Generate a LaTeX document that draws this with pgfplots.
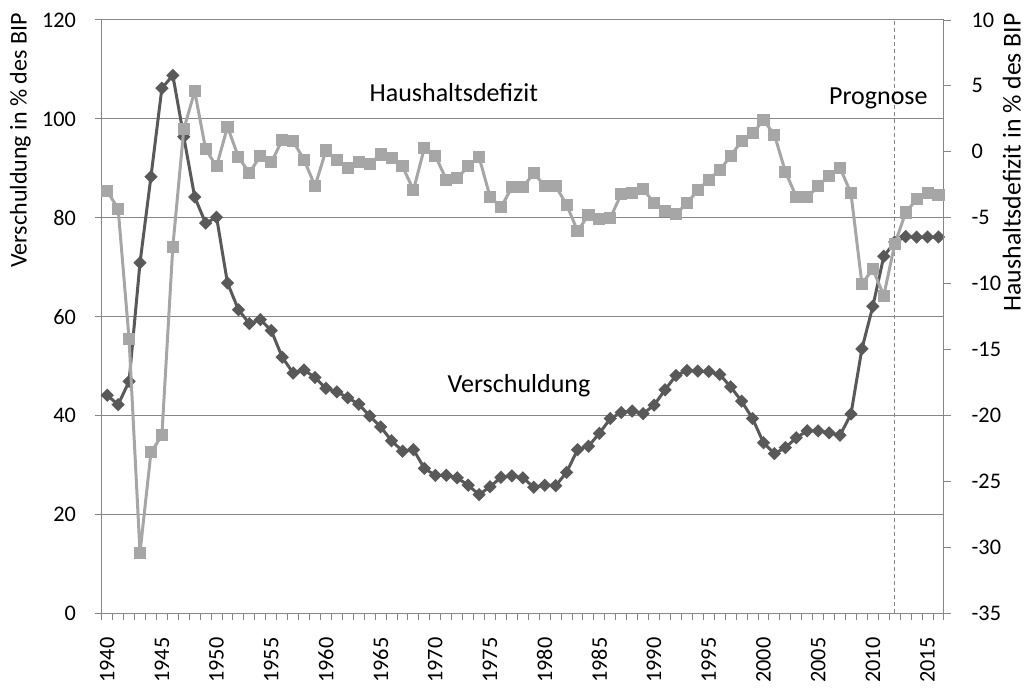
\documentclass[border=0pt]{standalone}
\usepackage{fontspec}
\setmainfont{Carlito}
\usepackage{pgfplots}
\pgfplotsset{compat=1.18}
\usepackage{pgfplotstable}
\definecolor{darkser}{HTML}{595959}
\definecolor{lightser}{HTML}{A6A6A6}
\definecolor{gridc}{HTML}{868686}

\pgfplotstableread{
year debt
1940 44.1
1941 42.2
1942 46.9
1943 70.9
1944 88.3
1945 106.2
1946 108.8
1947 96.4
1948 84.2
1949 78.9
1950 80.1
1951 66.8
1952 61.4
1953 58.6
1954 59.4
1955 57.2
1956 51.8
1957 48.6
1958 49.2
1959 47.7
1960 45.5
1961 44.8
1962 43.6
1963 42.3
1964 39.9
1965 37.7
1966 34.9
1967 32.8
1968 33.1
1969 29.3
1970 27.9
1971 27.9
1972 27.4
1973 25.9
1974 24.0
1975 25.6
1976 27.5
1977 27.8
1978 27.4
1979 25.5
1980 25.9
1981 25.8
1982 28.5
1983 33.1
1984 33.8
1985 36.4
1986 39.4
1987 40.6
1988 40.9
1989 40.4
1990 42.1
1991 45.2
1992 48.1
1993 49.1
1994 49.0
1995 48.9
1996 48.3
1997 45.8
1998 42.9
1999 39.4
2000 34.5
2001 32.3
2002 33.5
2003 35.5
2004 36.9
2005 36.9
2006 36.5
2007 36.0
2008 40.3
2009 53.5
2010 62.1
2011 72.2
2012 75.1
2013 76.2
2014 76.1
2015 76.1
2016 76.1
}\debttable

\pgfplotstableread{
year deficit
1940 -3.0
1941 -4.3
1942 -14.2
1943 -30.4
1944 -22.8
1945 -21.5
1946 -7.2
1947 1.7
1948 4.6
1949 0.2
1950 -1.1
1951 1.9
1952 -0.4
1953 -1.6
1954 -0.3
1955 -0.8
1956 0.9
1957 0.8
1958 -0.6
1959 -2.6
1960 0.1
1961 -0.6
1962 -1.25
1963 -0.75
1964 -0.9
1965 -0.2
1966 -0.5
1967 -1.1
1968 -2.9
1969 0.3
1970 -0.3
1971 -2.1
1972 -2.0
1973 -1.1
1974 -0.4
1975 -3.4
1976 -4.2
1977 -2.7
1978 -2.7
1979 -1.6
1980 -2.6
1981 -2.6
1982 -4.0
1983 -6.0
1984 -4.8
1985 -5.1
1986 -5.0
1987 -3.2
1988 -3.1
1989 -2.8
1990 -3.9
1991 -4.5
1992 -4.7
1993 -3.9
1994 -2.9
1995 -2.1
1996 -1.4
1997 -0.3
1998 0.8
1999 1.4
2000 2.4
2001 1.3
2002 -1.5
2003 -3.4
2004 -3.45
2005 -2.6
2006 -1.8
2007 -1.2
2008 -3.15
2009 -10.0
2010 -8.9
2011 -10.9
2012 -7.0
2013 -4.6
2014 -3.6
2015 -3.15
2016 -3.3
}\deficittable

\begin{document}
\begin{tikzpicture}
\pgfplotsset{
 common/.style={
  scale only axis, width=631.7pt, height=445pt,
  at={(0pt,0pt)}, anchor=south west,
  xmin=1939.5, xmax=2016.5,
  tick align=outside,
  /pgf/number format/assume math mode=true,
  /pgf/number format/1000 sep={},
  ticklabel style={font=\fontsize{16.7}{20}\selectfont},
  axis line style={gridc, line width=0.75pt},
  every tick/.style={gridc, line width=0.75pt},
  major tick length=5.25pt, minor tick length=5.25pt,
  clip=false,
 }
}
\begin{axis}[common,
  ymin=0, ymax=120, ytick={0,20,...,120},
  ymajorgrids, grid style={gridc, line width=0.75pt},
  xtick={1940,1945,...,2015},
  minor xtick={1939.5,1940.5,...,2016.5},
  major x tick style={draw=none},
  xticklabel style={rotate=90, anchor=east},
  xticklabel shift=9.5pt,
  yticklabel shift=10.5pt,
  axis x line*=bottom, axis y line*=left,
  yticklabel style={anchor=east},
]
\draw[gridc, line width=0.75pt, dash pattern=on 3pt off 2.25pt] (axis cs:2012,0) -- (axis cs:2012,120);
\addplot[darkser, line width=2.25pt, mark=square*, mark size=2.4pt, mark options={rotate=45, solid}] table[x=year, y=debt] {\debttable};
\node[anchor=base, font=\fontsize{19.5}{23}\selectfont] at (axis cs:1971.7,103.6) {Haushaltsdefizit};
\node[anchor=base, font=\fontsize{19.5}{23}\selectfont] at (axis cs:1977.65,44.6) {Verschuldung};
\node[anchor=base, font=\fontsize{19.5}{23}\selectfont] at (axis cs:2010.5,103.0) {Prognose};
\end{axis}
\begin{axis}[common,
  ymin=-35, ymax=10, ytick={-35,-30,...,10},
  axis y line*=right, axis x line=none,
  yticklabel shift=12pt,
  yticklabel style={anchor=west},
]
\addplot[lightser, line width=2.25pt, mark=square*, mark size=3.4pt, mark options={solid}] table[x=year, y=deficit] {\deficittable};
\end{axis}
\node[rotate=90, anchor=base east, font=\fontsize{18}{21}\selectfont, inner sep=0pt] at (-56.25pt,450.2pt) {Verschuldung in \% des BIP};
\node[rotate=90, anchor=base east, font=\fontsize{19.3}{22}\selectfont, inner sep=0pt] at (689.3pt,450.2pt) {Haushaltsdefizit in \% des BIP};
\pgfresetboundingbox
\useasboundingbox (-76.3pt,-57.5pt) rectangle (694pt,460pt);
\end{tikzpicture}
\end{document}
